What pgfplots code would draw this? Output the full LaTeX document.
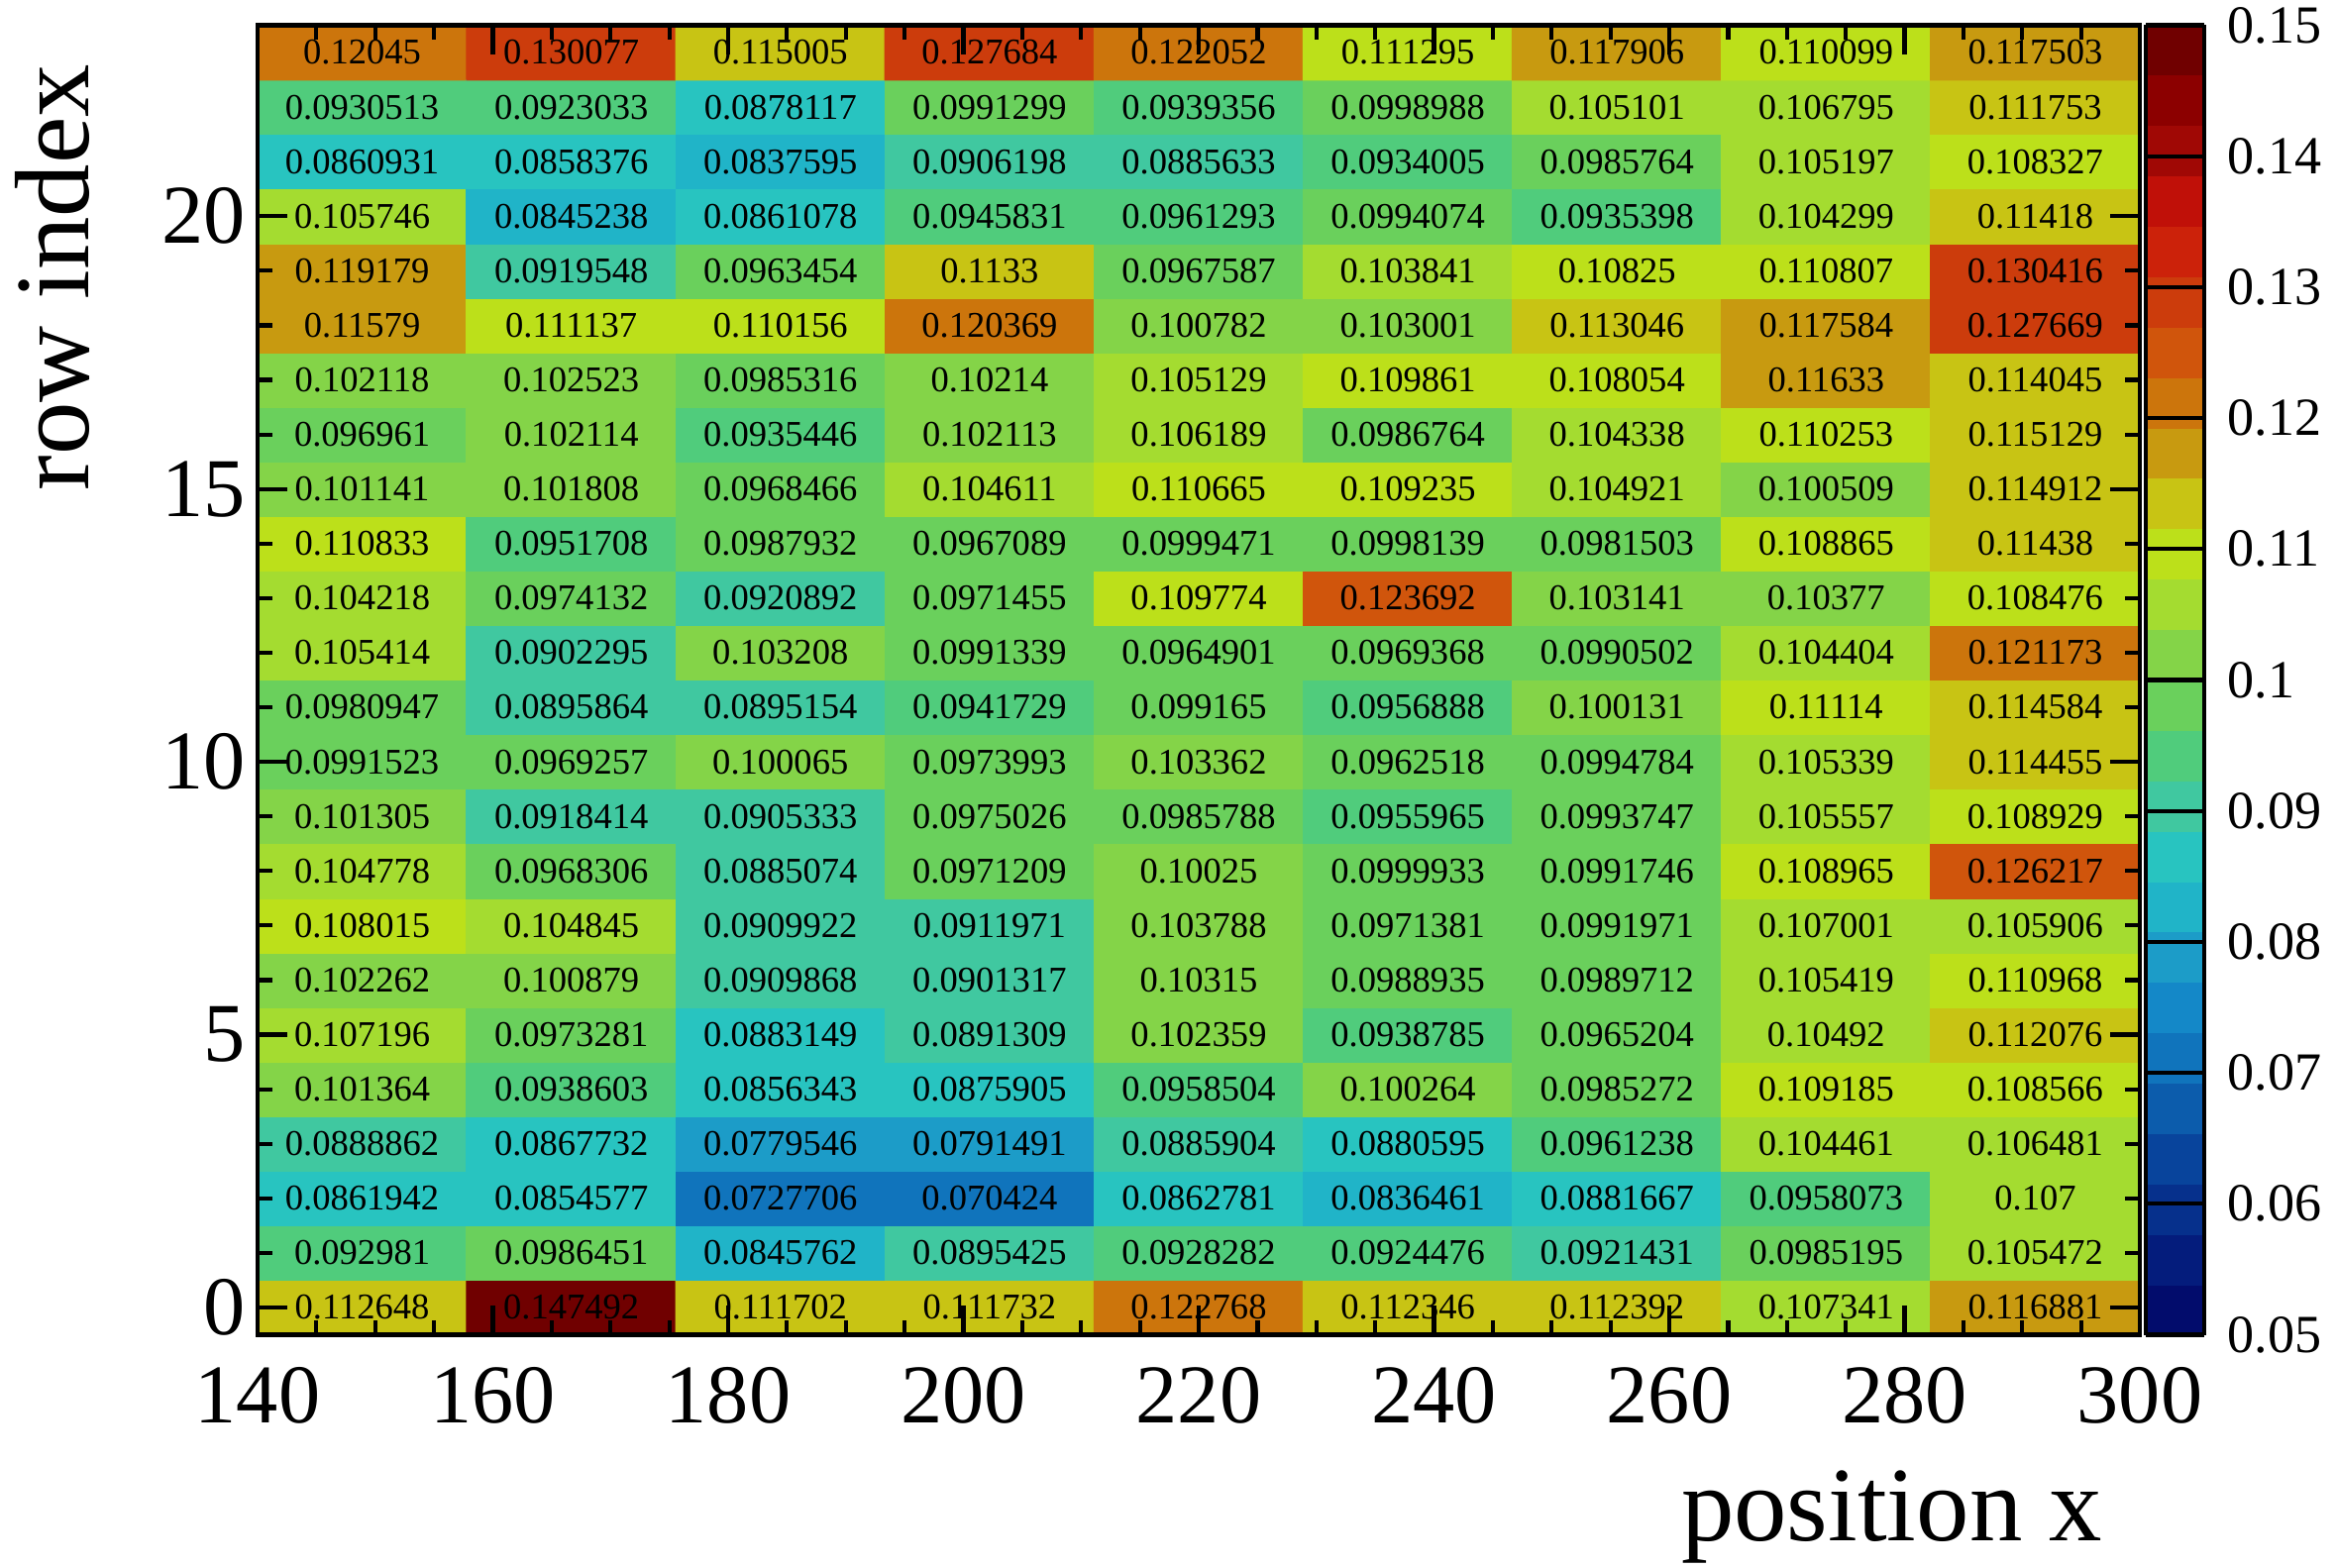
\documentclass[border=0pt]{standalone}
\usepackage{fontspec}
\setmainfont{Liberation Serif}
\usepackage{pgfplots}
\usepackage{pgfplotstable}
\pgfplotsset{compat=1.18}

\pgfplotstableread{
x y v
148.889 0 0.112648
166.667 0 0.147492
184.444 0 0.111702
202.222 0 0.111732
220.000 0 0.122768
237.778 0 0.112346
255.556 0 0.112392
273.333 0 0.107341
291.111 0 0.116881
148.889 1 0.092981
166.667 1 0.0986451
184.444 1 0.0845762
202.222 1 0.0895425
220.000 1 0.0928282
237.778 1 0.0924476
255.556 1 0.0921431
273.333 1 0.0985195
291.111 1 0.105472
148.889 2 0.0861942
166.667 2 0.0854577
184.444 2 0.0727706
202.222 2 0.070424
220.000 2 0.0862781
237.778 2 0.0836461
255.556 2 0.0881667
273.333 2 0.0958073
291.111 2 0.107
148.889 3 0.0888862
166.667 3 0.0867732
184.444 3 0.0779546
202.222 3 0.0791491
220.000 3 0.0885904
237.778 3 0.0880595
255.556 3 0.0961238
273.333 3 0.104461
291.111 3 0.106481
148.889 4 0.101364
166.667 4 0.0938603
184.444 4 0.0856343
202.222 4 0.0875905
220.000 4 0.0958504
237.778 4 0.100264
255.556 4 0.0985272
273.333 4 0.109185
291.111 4 0.108566
148.889 5 0.107196
166.667 5 0.0973281
184.444 5 0.0883149
202.222 5 0.0891309
220.000 5 0.102359
237.778 5 0.0938785
255.556 5 0.0965204
273.333 5 0.10492
291.111 5 0.112076
148.889 6 0.102262
166.667 6 0.100879
184.444 6 0.0909868
202.222 6 0.0901317
220.000 6 0.10315
237.778 6 0.0988935
255.556 6 0.0989712
273.333 6 0.105419
291.111 6 0.110968
148.889 7 0.108015
166.667 7 0.104845
184.444 7 0.0909922
202.222 7 0.0911971
220.000 7 0.103788
237.778 7 0.0971381
255.556 7 0.0991971
273.333 7 0.107001
291.111 7 0.105906
148.889 8 0.104778
166.667 8 0.0968306
184.444 8 0.0885074
202.222 8 0.0971209
220.000 8 0.10025
237.778 8 0.0999933
255.556 8 0.0991746
273.333 8 0.108965
291.111 8 0.126217
148.889 9 0.101305
166.667 9 0.0918414
184.444 9 0.0905333
202.222 9 0.0975026
220.000 9 0.0985788
237.778 9 0.0955965
255.556 9 0.0993747
273.333 9 0.105557
291.111 9 0.108929
148.889 10 0.0991523
166.667 10 0.0969257
184.444 10 0.100065
202.222 10 0.0973993
220.000 10 0.103362
237.778 10 0.0962518
255.556 10 0.0994784
273.333 10 0.105339
291.111 10 0.114455
148.889 11 0.0980947
166.667 11 0.0895864
184.444 11 0.0895154
202.222 11 0.0941729
220.000 11 0.099165
237.778 11 0.0956888
255.556 11 0.100131
273.333 11 0.11114
291.111 11 0.114584
148.889 12 0.105414
166.667 12 0.0902295
184.444 12 0.103208
202.222 12 0.0991339
220.000 12 0.0964901
237.778 12 0.0969368
255.556 12 0.0990502
273.333 12 0.104404
291.111 12 0.121173
148.889 13 0.104218
166.667 13 0.0974132
184.444 13 0.0920892
202.222 13 0.0971455
220.000 13 0.109774
237.778 13 0.123692
255.556 13 0.103141
273.333 13 0.10377
291.111 13 0.108476
148.889 14 0.110833
166.667 14 0.0951708
184.444 14 0.0987932
202.222 14 0.0967089
220.000 14 0.0999471
237.778 14 0.0998139
255.556 14 0.0981503
273.333 14 0.108865
291.111 14 0.11438
148.889 15 0.101141
166.667 15 0.101808
184.444 15 0.0968466
202.222 15 0.104611
220.000 15 0.110665
237.778 15 0.109235
255.556 15 0.104921
273.333 15 0.100509
291.111 15 0.114912
148.889 16 0.096961
166.667 16 0.102114
184.444 16 0.0935446
202.222 16 0.102113
220.000 16 0.106189
237.778 16 0.0986764
255.556 16 0.104338
273.333 16 0.110253
291.111 16 0.115129
148.889 17 0.102118
166.667 17 0.102523
184.444 17 0.0985316
202.222 17 0.10214
220.000 17 0.105129
237.778 17 0.109861
255.556 17 0.108054
273.333 17 0.11633
291.111 17 0.114045
148.889 18 0.11579
166.667 18 0.111137
184.444 18 0.110156
202.222 18 0.120369
220.000 18 0.100782
237.778 18 0.103001
255.556 18 0.113046
273.333 18 0.117584
291.111 18 0.127669
148.889 19 0.119179
166.667 19 0.0919548
184.444 19 0.0963454
202.222 19 0.1133
220.000 19 0.0967587
237.778 19 0.103841
255.556 19 0.10825
273.333 19 0.110807
291.111 19 0.130416
148.889 20 0.105746
166.667 20 0.0845238
184.444 20 0.0861078
202.222 20 0.0945831
220.000 20 0.0961293
237.778 20 0.0994074
255.556 20 0.0935398
273.333 20 0.104299
291.111 20 0.11418
148.889 21 0.0860931
166.667 21 0.0858376
184.444 21 0.0837595
202.222 21 0.0906198
220.000 21 0.0885633
237.778 21 0.0934005
255.556 21 0.0985764
273.333 21 0.105197
291.111 21 0.108327
148.889 22 0.0930513
166.667 22 0.0923033
184.444 22 0.0878117
202.222 22 0.0991299
220.000 22 0.0939356
237.778 22 0.0998988
255.556 22 0.105101
273.333 22 0.106795
291.111 22 0.111753
148.889 23 0.12045
166.667 23 0.130077
184.444 23 0.115005
202.222 23 0.127684
220.000 23 0.122052
237.778 23 0.111295
255.556 23 0.117906
273.333 23 0.110099
291.111 23 0.117503
}\datatable

\begin{document}
\begin{tikzpicture}
\begin{axis}[
  scale only axis, width=190mm, height=132.2mm,
  xmin=140, xmax=300, ymin=-0.5, ymax=23.5,
  enlargelimits=false,
  axis on top,
  xtick={140,160,180,200,220,240,260,280,300},
  ytick={0,5,10,15,20},
  minor x tick num=3, minor y tick num=4,
  tick align=inside,
  major tick length=3.0mm, minor tick length=1.5mm,
  every tick/.style={black, line width=1.2pt},
  axis line style={line width=1.3pt},
  /pgf/number format/assume math mode=true,
  ticklabel style={font=\fontsize{24}{24}\selectfont},
  xticklabel style={yshift=-2.0mm},
  every axis x label/.style={at={(axis description cs:0.9863,-0.1577)}, anchor=base east, font=\fontsize{30.4}{30}\selectfont},
  every axis y label/.style={at={(axis description cs:-0.0895,0.9796)}, rotate=90, anchor=base east, font=\fontsize{30.4}{30}\selectfont},
  xlabel={position x}, ylabel={row index},
  colormap={root}{
    rgb255=(2,12,108)
    rgb255=(4,28,124)
    rgb255=(6,48,140)
    rgb255=(8,68,156)
    rgb255=(12,92,172)
    rgb255=(16,116,188)
    rgb255=(20,136,200)
    rgb255=(28,156,200)
    rgb255=(32,180,200)
    rgb255=(40,196,192)
    rgb255=(64,200,160)
    rgb255=(80,204,124)
    rgb255=(106,208,92)
    rgb255=(132,212,72)
    rgb255=(164,220,48)
    rgb255=(188,224,26)
    rgb255=(200,196,20)
    rgb255=(200,154,16)
    rgb255=(204,117,12)
    rgb255=(208,85,12)
    rgb255=(204,60,12)
    rgb255=(204,34,10)
    rgb255=(192,16,8)
    rgb255=(160,8,5)
    rgb255=(140,0,0)
    rgb255=(112,0,0)
  },
  colormap access=piecewise constant,
  point meta min=0.05, point meta max=0.15,
  colorbar right,
  colorbar shift/.style={xshift=0.6mm},
  colorbar style={
    at={(parent axis.north east)}, anchor=north west,
    width=5.9mm, height=132.2mm, scale only axis,
    ytick={0.05,0.06,0.07,0.08,0.09,0.1,0.11,0.12,0.13,0.14,0.15},
    yticklabels={0.05,0.06,0.07,0.08,0.09,0.1,0.11,0.12,0.13,0.14,0.15},
    yticklabel style={font=\fontsize{15.4}{15}\selectfont, xshift=1.1mm},
    ytick pos=right, yticklabel pos=right,
    tick align=inside, major tick length=5.9mm,
    minor tick num=0,
    axis line style={line width=1.3pt},
    every tick/.style={black, line width=1.2pt},
  },
]
\addplot[matrix plot*, mesh/cols=9, point meta=explicit] table[x=x, y=y, meta=v] {\datatable};
\addplot[draw=none, mark=none, point meta=explicit symbolic,
  nodes near coords={\pgfplotspointmeta}, nodes near coords align={center},
  every node near coord/.append style={font=\fontsize{10.4}{10}\selectfont, text=black, inner sep=0pt}]
  table[x=x, y=y, meta=v] {\datatable};
\end{axis}
\pgfresetboundingbox
\useasboundingbox ([shift={(-26mm,-23.5mm)}]current axis.south west) rectangle ([shift={(19.7mm,2.55mm)}]current axis.north east);
\end{tikzpicture}
\end{document}
